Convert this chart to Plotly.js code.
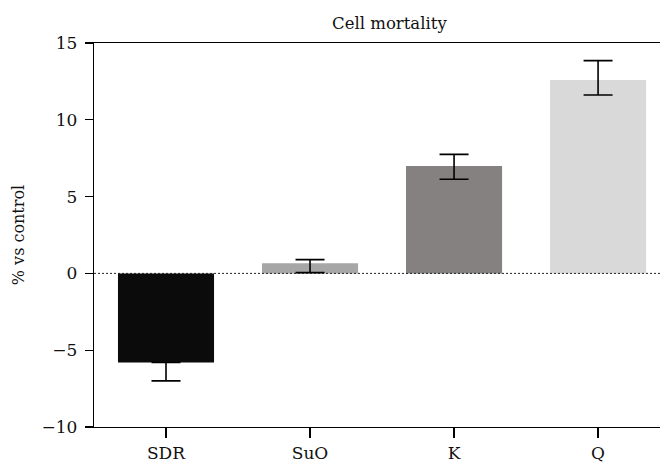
<!DOCTYPE html>
<html>
<head>
<meta charset="utf-8">
<script src="https://cdn.plot.ly/plotly-3.0.1.min.js"></script>
<style>html,body{margin:0;padding:0;background:#fff;overflow:hidden}#chart{width:660px;height:467px}</style>
</head>
<body>
<div id="chart"></div>
<script>
const categories = ["SDR", "SuO", "K", "Q"];
const values = [-5.8, 0.66, 6.99, 12.59];
const errPlus = [0, 0.24, 0.76, 1.26];
const errMinus = [1.2, 0.61, 0.86, 0.98];
const colors = ["#0b0b0b", "#a6a6a6", "#858180", "#d9d9d9"];
const yTicks = [-10, -5, 0, 5, 10, 15];
const yTickLabels = ["\u221210", "\u22125", "0", "5", "10", "15"];

const font = "DejaVu Serif, serif";

const trace = {
  type: "bar",
  x: categories,
  y: values,
  marker: { color: colors, line: { width: 0 } },
  error_y: {
    type: "data",
    symmetric: false,
    array: errPlus,
    arrayminus: errMinus,
    color: "#000",
    thickness: 1.6,
    width: 14.5
  },
  hoverinfo: "none"
};

const layout = {
  width: 660,
  height: 467,
  margin: { l: 94, r: 0, t: 43, b: 40 },
  paper_bgcolor: "#fff",
  plot_bgcolor: "#fff",
  showlegend: false,
  bargap: 0.333,
  font: { family: font },
  title: {
    text: "Cell mortality",
    font: { family: font, size: 16.5, color: "#111" },
    xref: "container",
    x: 0.59,
    xanchor: "center",
    yref: "container",
    y: 0.951,
    yanchor: "middle"
  },
  xaxis: {
    type: "category",
    range: [-0.5, 3.43],
    showline: true,
    mirror: true,
    linecolor: "#000",
    linewidth: 1.3,
    ticks: "outside",
    ticklen: 10,
    tickwidth: 1.3,
    tickcolor: "#000",
    showgrid: false,
    zeroline: false,
    tickfont: { family: font, size: 17, color: "#111" },
    fixedrange: true
  },
  yaxis: {
    range: [-10, 15],
    tickvals: yTicks,
    ticktext: yTickLabels,
    showline: true,
    linecolor: "#000",
    linewidth: 1.3,
    ticks: "outside",
    ticklen: 8,
    tickwidth: 1.3,
    tickcolor: "#000",
    showgrid: false,
    zeroline: false,
    ticklabelstandoff: 4,
    tickfont: { family: font, size: 17, color: "#111" },
    title: { text: "% vs control", font: { family: font, size: 16, color: "#111" }, standoff: 12 },
    fixedrange: true
  },
  shapes: [{
    type: "line",
    xref: "paper", yref: "y",
    x0: 0, x1: 1, y0: 0, y1: 0,
    line: { color: "#222", width: 1, dash: "2px,2px" },
    layer: "above"
  }]
};

Plotly.newPlot("chart", [trace], layout, { displayModeBar: false, staticPlot: true });
</script>
</body>
</html>
